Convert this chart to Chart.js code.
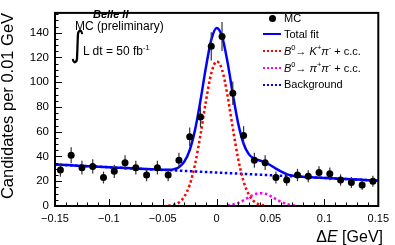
<!DOCTYPE html>
<html>
<head>
<meta charset="utf-8">
<script src="https://cdn.jsdelivr.net/npm/chart.js@4.4.1/dist/chart.umd.min.js"></script>
<style>
  html, body { margin: 0; padding: 0; background: #fff; }
  #wrap { position: relative; width: 395px; height: 245px; font-family: "Liberation Sans", Arial, sans-serif; color: #000; }
  #wrap canvas { position: absolute; left: 0; top: 0; }
  .t { position: absolute; white-space: nowrap; line-height: 1; }
  .sup { font-size: 7.5px; position: relative; top: -5px; }
  .leg { left: 284px; font-size: 11px; }
  .smp { position: absolute; left: 263px; width: 18px; height: 0; }
</style>
</head>
<body>
<div id="wrap">
  <canvas id="chart" width="395" height="245"></canvas>

  <div class="t" style="left:93px; top:8.5px; font-size:11px; font-weight:bold; font-style:italic;">Belle II</div>
  <div class="t" style="left:75px; top:20px; font-size:12px;">MC (preliminary)</div>
  <div class="t" style="left:70px; top:31px; font-size:28px; line-height:28px; font-family:'DejaVu Sans'; transform:scaleY(1.25); transform-origin:50% 50%;">&#8747;</div>
  <div class="t" style="left:83px; top:45px; font-size:12px;">L dt = 50 fb<span class="sup">-1</span></div>

  <div style="position:absolute; left:268.5px; top:15px; width:7px; height:7px; border-radius:50%; background:#000;"></div>
  <div class="t leg" style="top:12.5px;">MC</div>
  <div class="smp" style="top:33px; border-top:2px solid #0000ff;"></div>
  <div class="t leg" style="top:28.5px;">Total fit</div>
  <div class="smp" style="top:50px; border-top:2px dotted #ff0000;"></div>
  <div class="t leg" style="top:45.5px;"><i>B</i><span class="sup">0</span>&#8594; <i>K</i><span class="sup">+</span><i>&#960;</i><span class="sup">-</span> + c.c.</div>
  <div class="smp" style="top:67px; border-top:2px dotted #ff00ff;"></div>
  <div class="t leg" style="top:62.5px;"><i>B</i><span class="sup">0</span>&#8594; <i>&#960;</i><span class="sup">+</span><i>&#960;</i><span class="sup">-</span> + c.c.</div>
  <div class="smp" style="top:83.5px; border-top:2px dotted #0000ff;"></div>
  <div class="t leg" style="top:79px;">Background</div>

  <div class="t" style="right:12px; top:228.5px; font-size:16px;">&#916;<i>E</i> [GeV]</div>
</div>

<script>
// MC histogram, bins of 0.01 GeV
const binCenters = [-0.145, -0.135, -0.125, -0.115, -0.105, -0.095, -0.085, -0.075, -0.065, -0.055,
                    -0.045, -0.035, -0.025, -0.015, -0.005, 0.005, 0.015, 0.025, 0.035, 0.045,
                    0.055, 0.065, 0.075, 0.085, 0.095, 0.105, 0.115, 0.125, 0.135, 0.145];
const counts = [29, 41, 31, 32, 23, 28, 35, 31, 25, 31,
                25, 37, 56, 72, 129, 137, 91, 57, 37, 35,
                23, 21, 25, 24, 27, 26, 21, 19, 17, 20];
const errors = [5.4, 6.4, 5.6, 5.7, 4.8, 5.3, 5.9, 5.6, 5.0, 5.6,
                5.0, 6.1, 7.5, 8.5, 11.4, 11.7, 9.5, 7.5, 6.1, 5.9,
                4.8, 4.6, 5.0, 4.9, 5.2, 5.1, 4.6, 4.4, 4.1, 4.5];

// fit curves
const fitX = [-0.15, -0.145, -0.14, -0.135, -0.13, -0.125, -0.12, -0.115, -0.11, -0.105,
              -0.1, -0.095, -0.09, -0.085, -0.08, -0.075, -0.07, -0.065, -0.06, -0.055,
              -0.05, -0.045, -0.04, -0.035, -0.03, -0.025, -0.02, -0.015, -0.01, -0.005,
              0, 0.005, 0.01, 0.015, 0.02, 0.025, 0.03, 0.035, 0.04, 0.045,
              0.05, 0.055, 0.06, 0.065, 0.07, 0.075, 0.08, 0.085, 0.09, 0.095,
              0.1, 0.105, 0.11, 0.115, 0.12, 0.125, 0.13, 0.135, 0.14, 0.145, 0.15];
const totalFit = [33.5, 33.3, 33.1, 32.9, 32.6, 32.4, 32.2, 32.0, 31.8, 31.6,
                  31.3, 31.1, 30.9, 30.7, 30.5, 30.3, 30.0, 29.8, 29.6, 29.4,
                  29.2, 29.2, 29.6, 31.3, 35.8, 45.2, 61.7, 85.2, 111.8, 134.2,
                  143.9, 137.0, 116.7, 90.4, 66.7, 50.3, 41.7, 38.2, 36.8, 35.3,
                  32.9, 30.2, 27.7, 25.8, 24.7, 24.0, 23.6, 23.3, 23.1, 22.9,
                  22.7, 22.5, 22.2, 22.0, 21.8, 21.6, 21.4, 21.2, 20.9, 20.7, 20.5];
const kpiX = [-0.045, -0.04, -0.035, -0.03, -0.025, -0.02, -0.015, -0.01, -0.005, 0,
              0.005, 0.01, 0.015, 0.02, 0.025, 0.03, 0.035, 0.04, 0.045];
const kpiFit = [0.3, 0.9, 2.8, 7.5, 17.1, 33.8, 57.5, 84.4, 107.0, 116.9,
                110.2, 89.6, 62.8, 38.0, 19.8, 8.9, 3.5, 1.2, 0.3];
const pipiX = [0.01, 0.015, 0.02, 0.025, 0.03, 0.035, 0.04, 0.045, 0.05, 0.055, 0.06, 0.065, 0.07, 0.075];
const pipiFit = [0.5, 1.2, 2.5, 4.6, 7.1, 9.3, 10.4, 9.9, 8.0, 5.6, 3.3, 1.7, 0.7, 0.3];
const bkgX = [-0.15, 0.15];
const bkgFit = [33.5, 20.5];

const xTicks = [-0.15, -0.1, -0.05, 0, 0.05, 0.1, 0.15];
const xTickLabels = ['\u22120.15', '\u22120.1', '\u22120.05', '0', '0.05', '0.1', '0.15'];
const yTicks = [0, 20, 40, 60, 80, 100, 120, 140];

const pts = (xs, ys) => xs.map((v, i) => ({ x: v, y: ys[i] }));

// error bars just before the MC points, then frame with inward ROOT-style ticks
const rootAxes = {
    id: 'rootAxes',
    beforeDatasetDraw(chart, args) {
        if (args.index !== 0) return;
        const { ctx, scales: { x, y } } = chart;
        ctx.save();
        ctx.strokeStyle = '#333';
        ctx.lineWidth = 1.2;
        binCenters.forEach((c, i) => {
            const px = x.getPixelForValue(c);
            ctx.beginPath();
            ctx.moveTo(px, y.getPixelForValue(counts[i] - errors[i]));
            ctx.lineTo(px, y.getPixelForValue(counts[i] + errors[i]));
            ctx.stroke();
        });
        ctx.restore();
    },
    afterDraw(chart) {
        const { ctx, chartArea: a, scales: { x, y } } = chart;
        ctx.save();
        ctx.strokeStyle = '#000';
        ctx.lineWidth = 1;
        ctx.beginPath();
        for (let v = 0; v <= y.max; v += 5) {
            const py = Math.round(y.getPixelForValue(v)) + 0.5;
            const len = v % 20 === 0 ? 7 : 3.5;
            ctx.moveTo(a.left, py);
            ctx.lineTo(a.left + len, py);
        }
        for (let k = -15; k <= 15; k++) {
            const px = Math.round(x.getPixelForValue(k / 100)) + 0.5;
            const len = k % 5 === 0 ? 7 : 3.5;
            ctx.moveTo(px, a.bottom);
            ctx.lineTo(px, a.bottom - len);
        }
        ctx.stroke();
        ctx.lineWidth = 2;
        ctx.strokeRect(a.left, a.top, a.right - a.left, a.bottom - a.top);
        ctx.restore();
    }
};

const dotted = { borderWidth: 2.5, borderDash: [2.5, 2.5], pointRadius: 0, cubicInterpolationMode: 'monotone' };

new Chart(document.getElementById('chart'), {
    type: 'line',
    data: {
        datasets: [
            { label: 'MC', data: pts(binCenters, counts), showLine: false,
              pointRadius: 3.5, pointBackgroundColor: '#000', pointBorderWidth: 0, order: 0 },
            { label: 'Total fit', data: pts(fitX, totalFit), borderColor: '#0000ff',
              borderWidth: 2.5, pointRadius: 0, cubicInterpolationMode: 'monotone', order: 1 },
            Object.assign({ label: 'B0 -> K+ pi- + c.c.', data: pts(kpiX, kpiFit), borderColor: '#ff0000', order: 2 }, dotted),
            Object.assign({ label: 'B0 -> pi+ pi- + c.c.', data: pts(pipiX, pipiFit), borderColor: '#ff00ff', order: 3 }, dotted),
            Object.assign({ label: 'Background', data: pts(bkgX, bkgFit), borderColor: '#0000ff', order: 4 }, dotted)
        ]
    },
    options: {
        responsive: false,
        animation: false,
        events: [],
        layout: { padding: { left: 0, right: 12, top: 2, bottom: 0 } },
        plugins: { legend: { display: false }, tooltip: { enabled: false } },
        scales: {
            x: {
                type: 'linear',
                min: -0.15,
                max: 0.15,
                afterBuildTicks: s => { s.ticks = xTicks.map(v => ({ value: v })); },
                afterFit: s => { s.height = 39; },
                grid: { display: false, drawTicks: false },
                border: { display: false },
                ticks: {
                    padding: 6,
                    color: '#000',
                    maxRotation: 0,
                    autoSkip: false,
                    font: { family: '"Liberation Sans", Arial, sans-serif', size: 11 },
                    callback: (v, i) => xTickLabels[i]
                }
            },
            y: {
                min: 0,
                max: 156,
                afterBuildTicks: s => { s.ticks = yTicks.map(v => ({ value: v })); },
                afterFit: s => { s.width = 55; },
                grid: { display: false, drawTicks: false },
                border: { display: false },
                ticks: {
                    padding: 6,
                    color: '#000',
                    font: { family: '"Liberation Sans", Arial, sans-serif', size: 11.5 }
                },
                title: {
                    display: true,
                    text: 'Candidates per 0.01 GeV',
                    align: 'end',
                    color: '#000',
                    padding: 0,
                    font: { family: '"Liberation Sans", Arial, sans-serif', size: 16.5, lineHeight: 1 }
                }
            }
        }
    },
    plugins: [rootAxes]
});
</script>
</body>
</html>
